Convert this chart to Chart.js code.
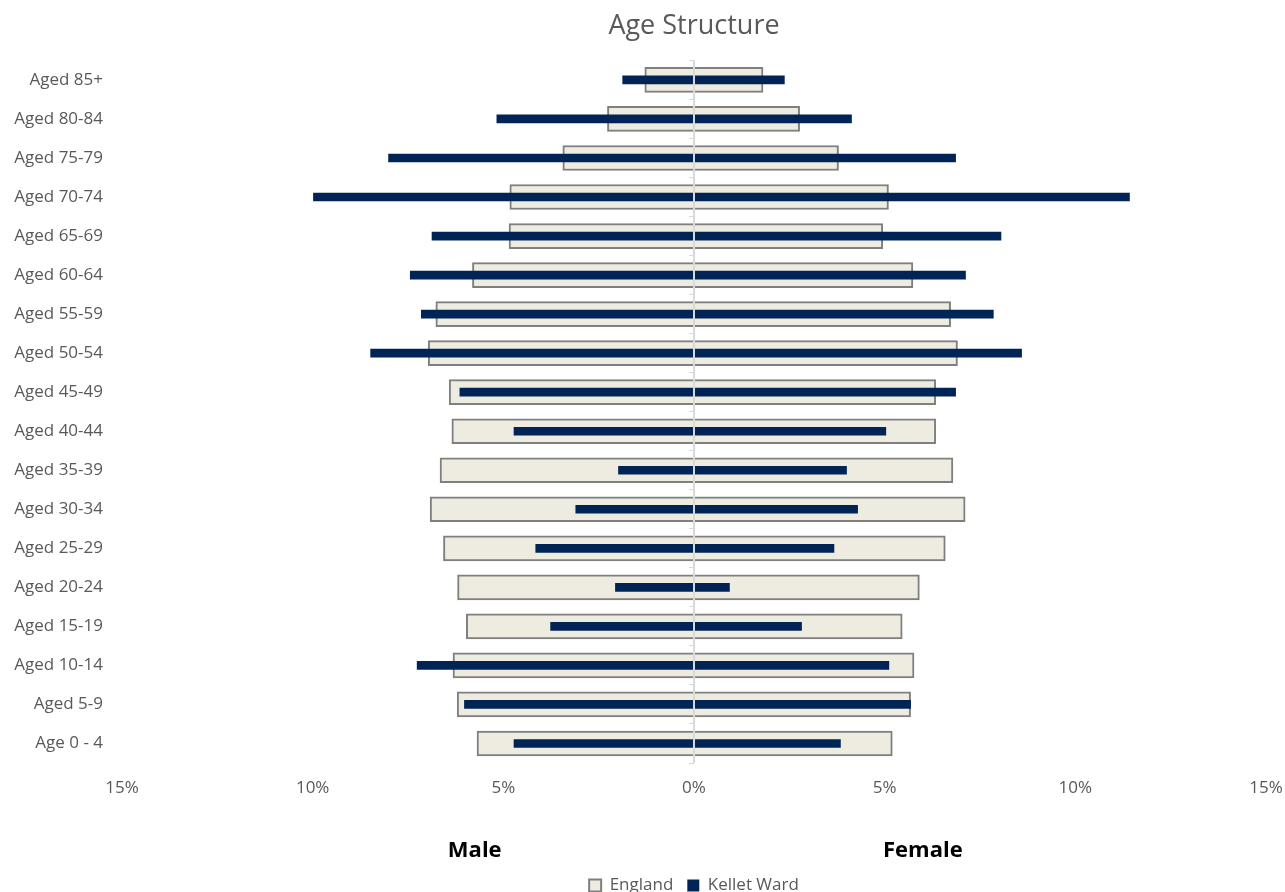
<!DOCTYPE html>
<html>
<head>
<meta charset="utf-8">
<title>Age Structure</title>
<script src="https://cdn.jsdelivr.net/npm/chart.js@4/dist/chart.umd.min.js"></script>
<style>
  html, body { margin: 0; padding: 0; background: #ffffff; overflow: hidden; }
  #wrap { position: relative; width: 1285px; height: 892px; }
</style>
</head>
<body>
<div id="wrap"><canvas id="pyramid"></canvas></div>
<script>
// Age bands, top of the pyramid first
const ageGroups = ['Aged 85+', 'Aged 80-84', 'Aged 75-79', 'Aged 70-74', 'Aged 65-69', 'Aged 60-64',
  'Aged 55-59', 'Aged 50-54', 'Aged 45-49', 'Aged 40-44', 'Aged 35-39', 'Aged 30-34',
  'Aged 25-29', 'Aged 20-24', 'Aged 15-19', 'Aged 10-14', 'Aged 5-9', 'Age 0 - 4'];

// Share of population (%) in each band
const englandMale   = [1.29, 2.27, 3.44, 4.83, 4.85, 5.81, 6.77, 6.97, 6.42, 6.35, 6.66, 6.92, 6.57, 6.20, 5.97, 6.32, 6.21, 5.69];
const englandFemale = [1.81, 2.77, 3.79, 5.10, 4.95, 5.74, 6.73, 6.91, 6.34, 6.34, 6.79, 7.11, 6.59, 5.91, 5.46, 5.77, 5.68, 5.20];
const kelletMale    = [1.87, 5.17, 8.01, 9.98, 6.87, 7.44, 7.15, 8.48, 6.14, 4.72, 1.98, 3.10, 4.15, 2.06, 3.76, 7.26, 6.02, 4.72];
const kelletFemale  = [2.37, 4.13, 6.86, 11.42, 8.05, 7.12, 7.85, 8.59, 6.86, 5.03, 4.00, 4.29, 3.67, 0.93, 2.82, 5.11, 5.68, 3.84];

// Axis ticks (%), male side plotted as negative
const xTickValues = [-15, -10, -5, 0, 5, 10, 15];

// Captions under each half of the pyramid
const sideCaptions = [
  { text: 'Male', value: -5.75 },
  { text: 'Female', value: 6.0 }
];

const FONT = '"Open Sans", "Noto Sans", sans-serif';
const GREY_TEXT = '#595959';

// Male spans to the left of zero, female to the right: one floating bar per band
const spans = (male, female) => ageGroups.map((_, i) => [-male[i], female[i]]);

const sideCaptionPlugin = {
  id: 'sideCaptions',
  afterDraw(chart) {
    const { ctx, chartArea, scales } = chart;
    ctx.save();
    ctx.font = 'bold 22px ' + FONT;
    ctx.fillStyle = '#000000';
    ctx.textAlign = 'center';
    ctx.textBaseline = 'middle';
    sideCaptions.forEach(c => {
      ctx.fillText(c.text, scales.x.getPixelForValue(c.value), chartArea.bottom + 88);
    });
    ctx.restore();
  }
};

new Chart(document.getElementById('pyramid'), {
  type: 'bar',
  data: {
    labels: ageGroups,
    datasets: [
      {
        label: 'England',
        data: spans(englandMale, englandFemale),
        backgroundColor: '#EEEBE0',
        borderColor: '#7F7F7F',
        borderWidth: 2,
        borderSkipped: false,
        barThickness: 25,
        grouped: false,
        order: 1,
        yAxisID: 'y'
      },
      {
        label: 'Kellet Ward',
        data: spans(kelletMale, kelletFemale),
        backgroundColor: '#002456',
        borderWidth: 0,
        borderSkipped: false,
        barThickness: 8,
        grouped: false,
        order: 0,
        yAxisID: 'y'
      }
    ]
  },
  options: {
    indexAxis: 'y',
    responsive: true,
    maintainAspectRatio: false,
    animation: false,
    layout: { padding: { left: 0, right: 19, top: 0, bottom: -12 } },
    scales: {
      y: {
        type: 'category',
        position: 'left',
        offset: true,
        grid: { display: false, drawTicks: false },
        border: { display: false },
        ticks: { color: GREY_TEXT, font: { family: FONT, size: 17 }, padding: 19 },
        afterFit(scale) { scale.width = 122; }
      },
      y2: {
        type: 'category',
        axis: 'y',
        position: { x: 0 },
        offset: true,
        grid: { offset: true, drawOnChartArea: false, drawTicks: true, tickLength: 5, color: '#d9d9d9', lineWidth: 1, z: 1 },
        border: { display: false },
        ticks: { display: false }
      },
      x: {
        type: 'linear',
        min: -15,
        max: 15,
        afterBuildTicks(scale) { scale.ticks = xTickValues.map(v => ({ value: v })); },
        grid: {
          drawTicks: true,
          tickLength: 15,
          tickColor: 'rgba(0,0,0,0)',
          lineWidth: 2,
          z: 1,
          color: ctx => (ctx.tick && ctx.tick.value === 0) ? '#d9d9d9' : 'rgba(0,0,0,0)'
        },
        border: { display: false },
        ticks: {
          color: GREY_TEXT,
          font: { family: FONT, size: 17 },
          padding: 0,
          maxRotation: 0,
          callback: v => Math.abs(v) + '%'
        },
        afterFit(scale) { scale.height = 100; }
      }
    },
    plugins: {
      title: {
        display: true,
        text: 'Age Structure',
        color: GREY_TEXT,
        fullSize: false,
        font: { family: FONT, size: 27, weight: 'normal' },
        padding: { top: 10, bottom: 18 }
      },
      legend: {
        position: 'bottom',
        fullSize: false,
        labels: {
          color: GREY_TEXT,
          font: { family: FONT, size: 17 },
          boxWidth: 12,
          boxHeight: 12,
          padding: 14,
          sort: (a, b) => a.datasetIndex - b.datasetIndex
        }
      },
      tooltip: { enabled: false }
    }
  },
  plugins: [sideCaptionPlugin]
});
</script>
</body>
</html>
